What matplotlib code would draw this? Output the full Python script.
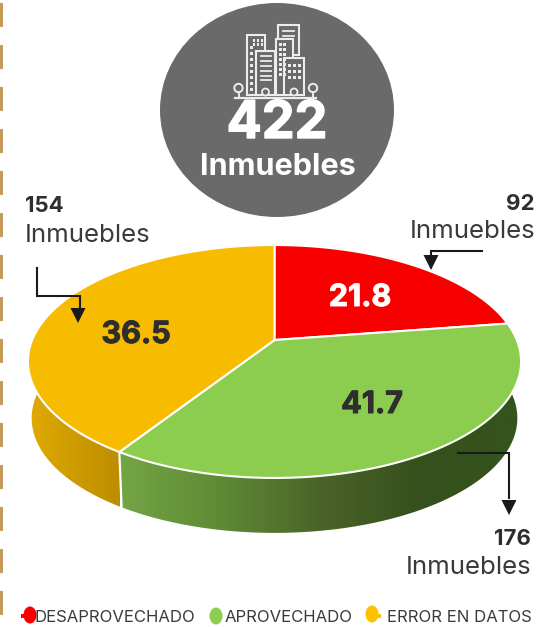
import matplotlib
matplotlib.use('Agg')
import matplotlib.pyplot as plt
import matplotlib.patheffects as pe
import numpy as np
from matplotlib.colors import LinearSegmentedColormap
from matplotlib.patches import Ellipse, Polygon, Rectangle, Circle

plt.rcParams['font.family'] = ['Inter', 'DejaVu Sans']

categories = ['DESAPROVECHADO', 'APROVECHADO', 'ERROR EN DATOS']
percent_labels = ['21.8', '41.7', '36.5']
counts = [92, 176, 154]
total = 422
# the drawn pie does not follow its printed labels, so the slice sizes
# are read off the picture separately
drawn_shares = [22.6, 36.5, 40.9]
colors = ['#F90000', '#8CCC4E', '#F7BB00']

dark = '#2E2E2E'
# projection of the tilted disc, in image pixels
CX, CY, BX, AY, K = 274.5, 340.0, 242.3, 112.5, 0.1845
WALL_SCALE, WALL_CY = 0.985, 397.0


def rim(theta, scale=1.0, cy=CY):
    u, v = np.sin(theta), np.cos(theta)
    d = 1 + K * v
    return np.c_[CX + scale * BX * u / d, cy - scale * AY * v / d]


def arc(start, end):
    return np.radians(np.linspace(start, end, 200))


def heavy(width, color):
    return [pe.withStroke(linewidth=width, foreground=color)]


fig = plt.figure(figsize=(5.41, 6.27), dpi=100)
ax = fig.add_axes([0, 0, 1, 1])
ax.axis('off')

edges = np.concatenate([[0], np.cumsum(drawn_shares)]) / sum(drawn_shares) * 360

# dashed rule on the left
for y in np.arange(3, 620, 42):
    ax.add_patch(Rectangle((0, y), 3, 24, color='#C49A5A', lw=0))

# walls with a horizontal gradient
wall_cmaps = [
    LinearSegmentedColormap.from_list('r', ['#A00000', '#A00000']),
    LinearSegmentedColormap.from_list('g', ['#74A544', '#5E8A36', '#4A6428', '#35501C', '#35541C']),
    LinearSegmentedColormap.from_list('y', ['#E0AA00', '#BC8D00']),
]
for i in [0, 2, 1]:
    t = arc(edges[i], edges[i + 1])
    pts = np.vstack([rim(t), rim(t, WALL_SCALE, WALL_CY)[::-1]])
    poly = Polygon(pts, closed=True, fc='none', ec='none', transform=ax.transData)
    ax.add_patch(poly)
    x0, x1 = (120, 521) if i == 1 else (28, 120)
    im = ax.imshow(np.linspace(0, 1, 256)[None, :], cmap=wall_cmaps[i], aspect='auto',
                   extent=(x0, x1, 560, 240), zorder=2)
    im.set_clip_path(poly)

# white cut between the two front walls
t = np.radians(edges[2])
p0, p1 = rim(t)[0], rim(t, WALL_SCALE, WALL_CY)[0]
ax.plot([p0[0], p1[0]], [p0[1], p1[1]], color='white', lw=1.6, zorder=3)

# top of the pie
for i in range(3):
    pts = np.vstack([[CX, CY], rim(arc(edges[i], edges[i + 1]))])
    ax.add_patch(Polygon(pts, closed=True, fc=colors[i], ec='white', lw=1.5,
                         joinstyle='round', zorder=4))

# grey badge
ax.add_patch(Ellipse((277, 110), 234, 214, fc='#6A6A6A', ec='none', zorder=5))

icon = '#ECECEC'
buildings = [(247, 35, 18, 60), (278, 25, 21, 30), (276, 39, 17, 56), (256, 51, 19, 44), (284, 58, 20, 37)]
for x, y, w, h in buildings:
    ax.add_patch(Rectangle((x, y), w, h, fc='#6A6A6A', ec=icon, lw=1.5, zorder=6))
for y in [56, 61, 66, 71, 76, 80]:
    ax.plot([261, 271], [y, y], color=icon, lw=1.3, zorder=7)
for y in [31, 36]:
    ax.plot([283, 294], [y, y], color=icon, lw=1.3, zorder=7)
for x in [288, 293, 298]:
    for y in [64, 70, 76]:
        ax.add_patch(Rectangle((x, y), 2.8, 3, fc=icon, ec='none', zorder=7))
for x in [279, 283]:
    for y in [43, 48, 53, 58, 63, 68, 73]:
        ax.add_patch(Rectangle((x, y), 2.6, 2.8, fc=icon, ec='none', zorder=7))
for y in range(46, 90, 6):
    ax.add_patch(Rectangle((250, y), 2.6, 3, fc=icon, ec='none', zorder=7))
for x in [253, 257, 261]:
    for y in [39, 43]:
        ax.add_patch(Rectangle((x, y), 2.4, 2.6, fc=icon, ec='none', zorder=7))
for x in [265.5, 294]:
    ax.add_patch(Circle((x, 92), 3.5, fc='#6A6A6A', ec=icon, lw=1.3, zorder=7))
ax.plot([235, 316], [98, 98], color=icon, lw=1.6, zorder=7)
for x in [238.5, 313]:
    ax.add_patch(Circle((x, 88), 4.2, fc='#6A6A6A', ec=icon, lw=1.4, zorder=7))
    ax.plot([x, x], [92, 98], color=icon, lw=1.4, zorder=7)

ax.text(277, 138, str(total), color='white', fontsize=37.5, fontweight='bold',
        ha='center', va='baseline', zorder=8, path_effects=heavy(1.0, 'white'))
ax.text(278, 175, 'Inmuebles', color='white', fontsize=22, fontweight='bold',
        ha='center', va='baseline', zorder=8)

# slice values
ax.text(360, 298, percent_labels[0], color='white', fontsize=22, fontweight='bold',
        ha='center', va='center', zorder=8, path_effects=heavy(0.7, 'white'))
ax.text(372, 405, percent_labels[1], color=dark, fontsize=22, fontweight='bold',
        ha='center', va='center', zorder=8, path_effects=heavy(0.7, dark))
ax.text(136, 335, percent_labels[2], color=dark, fontsize=22, fontweight='bold',
        ha='center', va='center', zorder=8, path_effects=heavy(0.7, dark))

# callouts
ax.text(25, 206, str(counts[2]), color=dark, fontsize=16, fontweight='bold', ha='left', va='center')
ax.text(25, 235, 'Inmuebles', color='#3A3A3A', fontsize=18.6, ha='left', va='center')
ax.text(535, 204, str(counts[0]), color=dark, fontsize=16, fontweight='bold', ha='right', va='center')
ax.text(535, 232, 'Inmuebles', color='#3A3A3A', fontsize=18.6, ha='right', va='center')
ax.text(531, 539, str(counts[1]), color=dark, fontsize=16, fontweight='bold', ha='right', va='center')
ax.text(531, 568, 'Inmuebles', color='#3A3A3A', fontsize=18.6, ha='right', va='center')

leaders = [
    ([482, 431, 431], [251, 251, 256]),
    ([37, 37, 80, 80], [268, 296, 296, 308]),
    ([458, 509, 509], [453, 453, 498]),
]
heads = [(431, 270), (78, 323), (509, 515)]
for (xs, ys), (hx, hy) in zip(leaders, heads):
    ax.plot(xs, ys, color='#1A1A1A', lw=1.5, zorder=9, solid_joinstyle='miter')
    ax.add_patch(Polygon([(hx - 7.5, hy - 15), (hx + 7.5, hy - 15), (hx, hy)], fc='#1A1A1A', ec='none', zorder=9))

# legend
legend_marks = [(30, 615), (216, 616), (372, 614)]
legend_text_x = [35, 225, 387]
for i in range(3):
    mx, my = legend_marks[i]
    ax.add_patch(Ellipse((mx, my), 13, 17, fc=colors[i] if i != 2 else '#FFC000', ec='none', zorder=6))
    ax.text(legend_text_x[i], 618, categories[i], color='#3A3A3A', fontsize=12,
            ha='left', va='center', zorder=7)
ax.add_patch(Rectangle((21, 613.5), 8, 4, fc=colors[0], ec='none', zorder=6))
ax.add_patch(Rectangle((372, 613.5), 9, 4, fc='#FFC000', ec='none', zorder=6))

ax.set_xlim(0, 541)
ax.set_ylim(627, 0)
fig.savefig('out.png', dpi=100)
